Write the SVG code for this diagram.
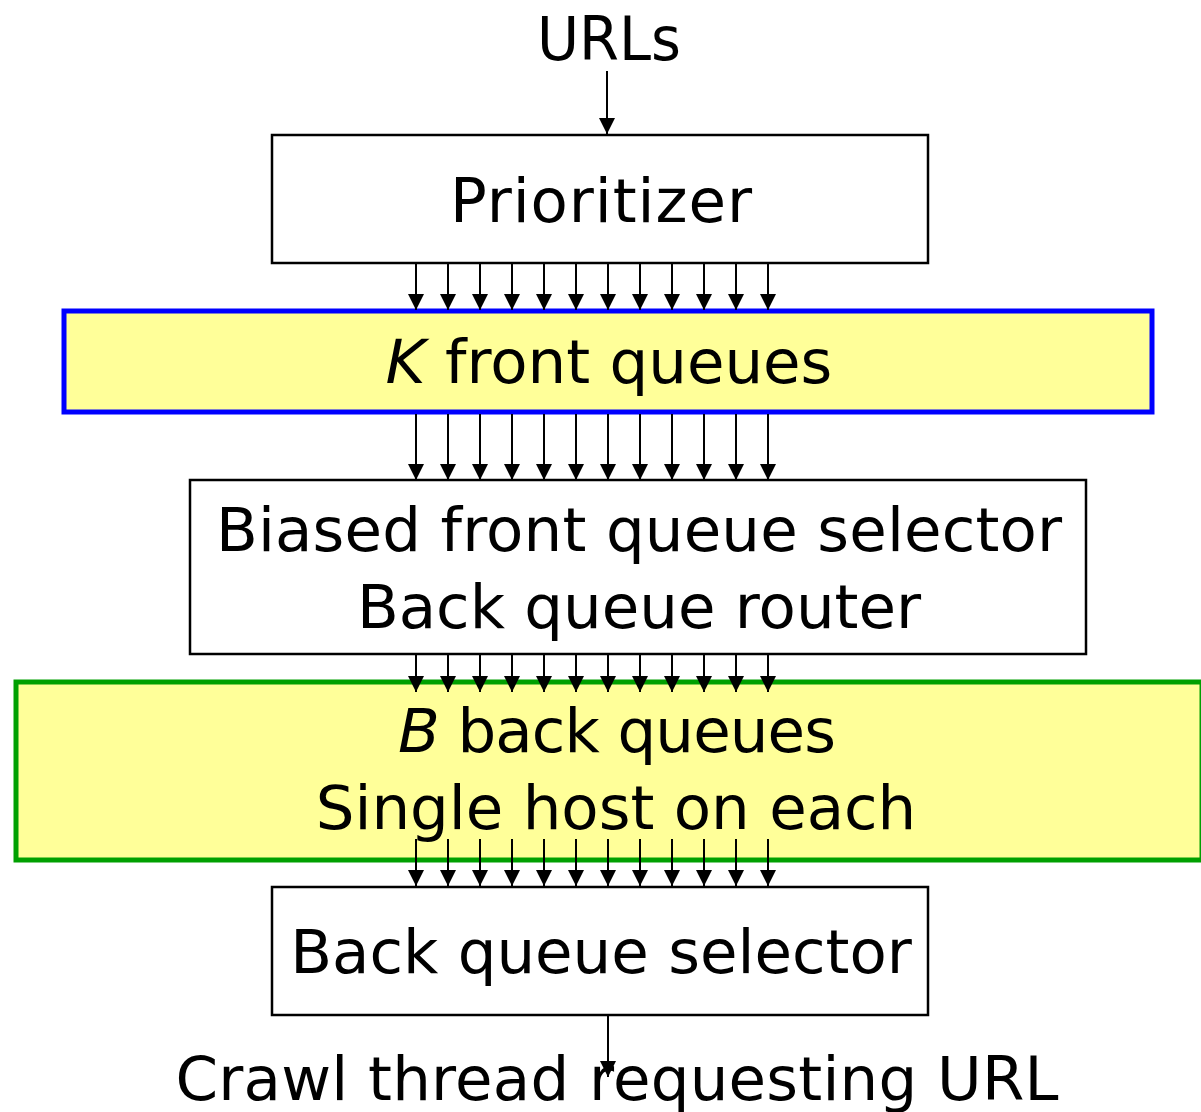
<svg xmlns="http://www.w3.org/2000/svg" width="1201" height="1112" viewBox="0 0 1201 1112">
<style>
text{font-family:"DejaVu Sans","Liberation Sans",sans-serif;font-size:61px;fill:#000;text-anchor:middle}
.box{fill:#fff;stroke:#000;stroke-width:2.5}
.q{fill:#FFFF99;stroke-width:5}
.c line{stroke:#000;stroke-width:2;marker-end:url(#ah)}
</style>
<defs>
<marker id="ah" markerUnits="userSpaceOnUse" markerWidth="16" markerHeight="16" refX="16" refY="8" orient="auto">
<path d="M0,0 L16,8 L0,16 z" fill="#000"/>
</marker>
</defs>
<rect width="1201" height="1112" fill="#fff"/>
<g id="urls"><text x="609" y="60" textLength="144" lengthAdjust="spacingAndGlyphs">URLs</text></g>
<g id="prioritizer"><rect class="box" x="272" y="135" width="656" height="128"/><text x="601" y="222" textLength="302">Prioritizer</text></g>
<g id="front-queues"><rect class="q" x="64" y="311" width="1088" height="101" stroke="#0000FF"/><text x="609" y="383"><tspan font-style="italic">K</tspan> front queues</text></g>
<g id="selector-router"><rect class="box" x="190" y="480" width="896" height="174"/><text x="639" y="551" textLength="846">Biased front queue selector</text><text x="639" y="628">Back queue router</text></g>
<g id="back-queues"><rect class="q" x="16" y="682" width="1186" height="178" stroke="#00A000"/><text x="617" y="752" textLength="438"><tspan font-style="italic">B</tspan> back queues</text><text x="616" y="829">Single host on each</text></g>
<g id="back-selector"><rect class="box" x="272" y="887" width="656" height="128"/><text x="601" y="973">Back queue selector</text></g>
<g id="crawl-thread"><text x="617" y="1100" textLength="883">Crawl thread requesting URL</text></g>
<g id="connectors" class="c">
<line x1="607" y1="71" x2="607" y2="134"/>
<line x1="416" y1="264" x2="416" y2="310"/><line x1="448" y1="264" x2="448" y2="310"/><line x1="480" y1="264" x2="480" y2="310"/><line x1="512" y1="264" x2="512" y2="310"/><line x1="544" y1="264" x2="544" y2="310"/><line x1="576" y1="264" x2="576" y2="310"/><line x1="608" y1="264" x2="608" y2="310"/><line x1="640" y1="264" x2="640" y2="310"/><line x1="672" y1="264" x2="672" y2="310"/><line x1="704" y1="264" x2="704" y2="310"/><line x1="736" y1="264" x2="736" y2="310"/><line x1="768" y1="264" x2="768" y2="310"/>
<line x1="416" y1="414" x2="416" y2="480"/><line x1="448" y1="414" x2="448" y2="480"/><line x1="480" y1="414" x2="480" y2="480"/><line x1="512" y1="414" x2="512" y2="480"/><line x1="544" y1="414" x2="544" y2="480"/><line x1="576" y1="414" x2="576" y2="480"/><line x1="608" y1="414" x2="608" y2="480"/><line x1="640" y1="414" x2="640" y2="480"/><line x1="672" y1="414" x2="672" y2="480"/><line x1="704" y1="414" x2="704" y2="480"/><line x1="736" y1="414" x2="736" y2="480"/><line x1="768" y1="414" x2="768" y2="480"/>
<line x1="416" y1="655" x2="416" y2="692"/><line x1="448" y1="655" x2="448" y2="692"/><line x1="480" y1="655" x2="480" y2="692"/><line x1="512" y1="655" x2="512" y2="692"/><line x1="544" y1="655" x2="544" y2="692"/><line x1="576" y1="655" x2="576" y2="692"/><line x1="608" y1="655" x2="608" y2="692"/><line x1="640" y1="655" x2="640" y2="692"/><line x1="672" y1="655" x2="672" y2="692"/><line x1="704" y1="655" x2="704" y2="692"/><line x1="736" y1="655" x2="736" y2="692"/><line x1="768" y1="655" x2="768" y2="692"/>
<line x1="416" y1="839" x2="416" y2="886"/><line x1="448" y1="839" x2="448" y2="886"/><line x1="480" y1="839" x2="480" y2="886"/><line x1="512" y1="839" x2="512" y2="886"/><line x1="544" y1="839" x2="544" y2="886"/><line x1="576" y1="839" x2="576" y2="886"/><line x1="608" y1="839" x2="608" y2="886"/><line x1="640" y1="839" x2="640" y2="886"/><line x1="672" y1="839" x2="672" y2="886"/><line x1="704" y1="839" x2="704" y2="886"/><line x1="736" y1="839" x2="736" y2="886"/><line x1="768" y1="839" x2="768" y2="886"/>
<line x1="608" y1="1016" x2="608" y2="1077"/>
</g>
</svg>
